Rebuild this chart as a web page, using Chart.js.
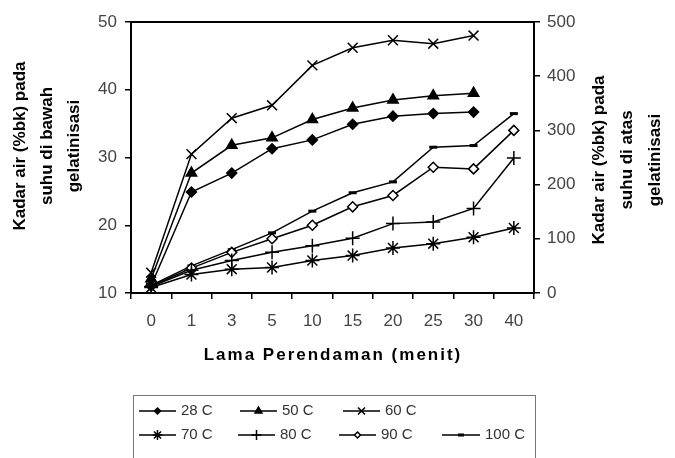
<!DOCTYPE html>
<html>
<head>
<meta charset="utf-8">
<script src="https://cdn.jsdelivr.net/npm/chart.js@4"></script>
<style>
  html, body { margin: 0; padding: 0; background: #fff; }
  #wrap { width: 675px; height: 458px; }
</style>
</head>
<body>
<div id="wrap"><canvas id="myChart" width="675" height="458"></canvas></div>
<script>
// lama perendaman (menit)
const categories = ['0', '1', '3', '5', '10', '15', '20', '25', '30', '40']

// suhu di bawah gelatinisasi (sumbu kiri)
const s28 = [11.1, 24.9, 27.7, 31.3, 32.6, 34.9, 36.1, 36.5, 36.7, null]
const s50 = [12.1, 27.7, 31.8, 32.9, 35.6, 37.3, 38.5, 39.1, 39.5, null]
const s60 = [13.0, 30.5, 35.8, 37.7, 43.6, 46.2, 47.3, 46.8, 48.0, null]

// suhu di atas gelatinisasi (sumbu kanan)
const s70 = [10, 34, 44, 47, 60, 69, 83, 91, 103, 120]
const s80 = [12, 42, 60, 75, 87, 101, 128, 131, 156, 249]
const s90 = [13, 46, 75, 100, 125, 159, 180, 232, 229, 300]
const s100 = [14, 50, 80, 111, 151, 185, 205, 269, 272, 331]

const leftTicks = [10, 20, 30, 40, 50]
const rightTicks = [0, 100, 200, 300, 400, 500]

const font = 'Liberation Sans, Arial, sans-serif'

function ds(label, data, axis, style, radius, fill) {
  return {
    label: label,
    data: data,
    yAxisID: axis,
    borderColor: '#000',
    borderWidth: 1.5,
    pointStyle: style,
    pointRadius: radius,
    pointBackgroundColor: fill,
    pointBorderColor: '#000',
    pointBorderWidth: style === 'line' ? 3 : 1.5,
    tension: 0,
    spanGaps: false,
  }
}

const datasets = [
  ds('28 C', s28, 'y', 'rectRot', 5, '#000'),
  ds('50 C', s50, 'y', 'triangle', 6, '#000'),
  ds('60 C', s60, 'y', 'crossRot', 7, '#000'),
  ds('70 C', s70, 'y1', 'star', 7, '#000'),
  ds('80 C', s80, 'y1', 'cross', 7, '#000'),
  ds('90 C', s90, 'y1', 'rectRot', 5, '#fff'),
  ds('100 C', s100, 'y1', 'line', 4, '#000'),
]

// legend slots: [x line start, y]
const legendPos = [
  [139, 411], [240, 411], [343, 411],
  [139, 435], [238, 435], [339, 435], [442, 435],
]

const extras = {
  id: 'extras',
  afterDraw(chart) {
    const ctx = chart.ctx
    const a = chart.chartArea
    ctx.save()
    // plot frame
    ctx.strokeStyle = '#000'
    ctx.lineWidth = 2
    ctx.strokeRect(a.left, a.top, a.right - a.left, a.bottom - a.top)

    // axis titles
    ctx.fillStyle = '#000'
    ctx.font = 'bold 17px ' + font
    ctx.textAlign = 'center'
    ctx.textBaseline = 'middle'
    const leftLines = ['Kadar air (%bk) pada', 'suhu di bawah', 'gelatinisasi']
    const rightLines = ['Kadar air (%bk) pada', 'suhu di atas', 'gelatinisasi']
    ctx.save()
    ctx.translate(47, 146)
    ctx.rotate(-Math.PI / 2)
    leftLines.forEach((t, i) => ctx.fillText(t, 0, (i - 1) * 27))
    ctx.restore()
    ctx.save()
    ctx.translate(627, 160)
    ctx.rotate(-Math.PI / 2)
    rightLines.forEach((t, i) => ctx.fillText(t, 0, (i - 1) * 28))
    ctx.restore()
    ctx.letterSpacing = '2px'
    ctx.fillText('Lama Perendaman (menit)', 333, 355)
    ctx.letterSpacing = '0px'

    // legend box
    ctx.strokeStyle = '#777'
    ctx.lineWidth = 1
    ctx.strokeRect(133.5, 395.5, 402, 80)
    ctx.font = '15px ' + font
    ctx.textAlign = 'left'
    chart.data.datasets.forEach((d, i) => {
      const [x, y] = legendPos[i]
      const w = i === 6 ? 38 : 37
      ctx.strokeStyle = '#000'
      ctx.lineWidth = 1.5
      ctx.beginPath()
      ctx.moveTo(x, y)
      ctx.lineTo(x + w, y)
      ctx.stroke()
      ctx.fillStyle = d.pointBackgroundColor
      ctx.lineWidth = d.pointBorderWidth
      Chart.helpers.drawPoint(ctx, {
        pointStyle: d.pointStyle,
        radius: Math.max(3, d.pointRadius - 2),
        rotation: 0,
        borderWidth: d.pointBorderWidth,
      }, x + w / 2, y)
      ctx.fillStyle = '#333'
      ctx.fillText(d.label, x + w + 5, y)
    })
    ctx.restore()
  }
}

const ctx = document.getElementById('myChart').getContext('2d')
const myChart = new Chart(ctx, {
  type: 'line',
  data: { labels: categories, datasets: datasets },
  options: {
    responsive: false,
    animation: false,
    layout: { padding: { top: 22, left: 0, right: 0, bottom: 0 } },
    plugins: { legend: { display: false }, tooltip: { enabled: false } },
    scales: {
      x: {
        offset: true,
        grid: { drawOnChartArea: false, offset: true, tickLength: 6, color: '#000', lineWidth: 1.5 },
        border: { display: true, color: '#000', width: 2 },
        ticks: { color: '#444', font: { family: font, size: 17 }, padding: 12, maxRotation: 0 },
        afterFit: (s) => { s.height = 458 - 293 - 0 },
      },
      y: {
        position: 'left',
        min: 10, max: 50,
        afterBuildTicks: (s) => { s.ticks = leftTicks.map(v => ({ value: v })) },
        grid: { drawOnChartArea: false, tickLength: 6, color: '#000', lineWidth: 1.5 },
        border: { display: true, color: '#000', width: 2 },
        ticks: { color: '#444', font: { family: font, size: 17 }, padding: 8 },
        afterFit: (s) => { s.width = 131 },
      },
      y1: {
        position: 'right',
        min: 0, max: 500,
        afterBuildTicks: (s) => { s.ticks = rightTicks.map(v => ({ value: v })) },
        grid: { drawOnChartArea: false, tickLength: 6, color: '#000', lineWidth: 1.5 },
        border: { display: true, color: '#000', width: 2 },
        ticks: { color: '#444', font: { family: font, size: 17 }, padding: 7 },
        afterFit: (s) => { s.width = 675 - 534 },
      },
    },
  },
  plugins: [extras],
})
</script>
</body>
</html>
